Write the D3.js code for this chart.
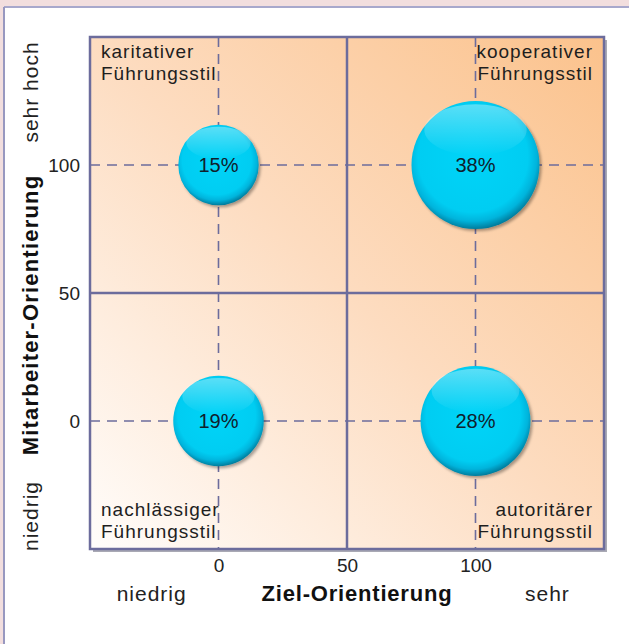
<!DOCTYPE html>
<html>
<head>
<meta charset="UTF-8">
<title>Führungsstile</title>
<script src="https://cdn.jsdelivr.net/npm/d3@7"></script>
<style>
  body { margin: 0; background: #fff; }
  text { font-family: "Liberation Sans", Arial, sans-serif; }
</style>
</head>
<body>
<div id="chart"></div>
<script>
// data
var styles = ["karitativer Führungsstil", "kooperativer Führungsstil", "nachlässiger Führungsstil", "autoritärer Führungsstil"];
var goalValues = [0, 100, 0, 100];      // Ziel-Orientierung
var staffValues = [100, 100, 0, 0];     // Mitarbeiter-Orientierung
var shares = [15, 38, 19, 28];          // Anteil in %
var tickValues = [0, 50, 100];
var xEnds = ["niedrig", "sehr"];
var yEnds = ["niedrig", "sehr hoch"];

(function () {
var W = 629, H = 644;
var svg = d3.select("#chart").append("svg")
    .attr("width", W).attr("height", H);

var defs = svg.append("defs");

// plot background gradient
var bg = defs.append("linearGradient").attr("id", "bg")
    .attr("x1", "0%").attr("y1", "100%").attr("x2", "100%").attr("y2", "0%");
bg.append("stop").attr("offset", "0%").attr("stop-color", "#fffdfb");
bg.append("stop").attr("offset", "50%").attr("stop-color", "#fddcc0");
bg.append("stop").attr("offset", "100%").attr("stop-color", "#fbc28c");

// bubble gradient
var bub = defs.append("radialGradient").attr("id", "bub")
    .attr("cx", "48%").attr("cy", "44%").attr("r", "58%");
bub.append("stop").attr("offset", "0%").attr("stop-color", "#02d4f8");
bub.append("stop").attr("offset", "74%").attr("stop-color", "#00cdf2");
bub.append("stop").attr("offset", "86%").attr("stop-color", "#00b4dc");
bub.append("stop").attr("offset", "100%").attr("stop-color", "#006a88");

var hl = defs.append("linearGradient").attr("id", "hl")
    .attr("x1", "0%").attr("y1", "0%").attr("x2", "0%").attr("y2", "100%");
hl.append("stop").attr("offset", "0%").attr("stop-color", "#ffffff").attr("stop-opacity", 0.35);
hl.append("stop").attr("offset", "100%").attr("stop-color", "#ffffff").attr("stop-opacity", 0);

var shadow = defs.append("filter").attr("id", "sh")
    .attr("x", "-20%").attr("y", "-20%").attr("width", "150%").attr("height", "150%");
shadow.append("feGaussianBlur").attr("in", "SourceAlpha").attr("stdDeviation", 1.5);
shadow.append("feOffset").attr("dx", 2).attr("dy", 2).attr("result", "o");
shadow.append("feComponentTransfer").append("feFuncA").attr("type", "linear").attr("slope", 0.35);
var mg = shadow.append("feMerge");
mg.append("feMergeNode");
mg.append("feMergeNode").attr("in", "SourceGraphic");

// outer frame
svg.append("rect").attr("width", W).attr("height", H).attr("fill", "#f2dede");
svg.append("rect").attr("x", 5).attr("y", 8).attr("width", W - 5).attr("height", H - 8).attr("fill", "#fff");
svg.append("line").attr("x1", 4).attr("x2", W).attr("y1", 7).attr("y2", 7)
    .attr("stroke", "#a8a8cc").attr("stroke-width", 2);
svg.append("line").attr("x1", 4).attr("x2", 4).attr("y1", 7).attr("y2", H)
    .attr("stroke", "#9898c0").attr("stroke-width", 2);

var pl = 90, pr = 604, pt = 37, pb = 549;
var x = d3.scaleLinear().domain([-50, 150]).range([pl, pr]);
var y = d3.scaleLinear().domain([-50, 150]).range([pb, pt]);
var r = d3.scaleSqrt().domain([0, 38]).range([0, 64]);

var gridColor = "#6c6c9c";

// plot area with shadow
svg.append("rect").attr("x", pl + 3).attr("y", pt + 3)
    .attr("width", pr - pl).attr("height", pb - pt)
    .attr("fill", "#a9a9b4");
svg.append("rect").attr("x", pl).attr("y", pt)
    .attr("width", pr - pl).attr("height", pb - pt)
    .attr("fill", "url(#bg)");

var grid = svg.append("g");
tickValues.forEach(function (v) {
  var solid = v === 50;
  grid.append("line").attr("x1", x(v)).attr("x2", x(v)).attr("y1", pt).attr("y2", pb)
      .attr("stroke", gridColor).attr("stroke-width", solid ? 2.5 : 1.6)
      .attr("stroke-dasharray", solid ? null : "10,7");
  grid.append("line").attr("y1", y(v)).attr("y2", y(v)).attr("x1", pl).attr("x2", pr)
      .attr("stroke", gridColor).attr("stroke-width", solid ? 2.5 : 1.6)
      .attr("stroke-dasharray", solid ? null : "10,7");
});
svg.append("rect").attr("x", pl).attr("y", pt)
    .attr("width", pr - pl).attr("height", pb - pt)
    .attr("fill", "none").attr("stroke", gridColor).attr("stroke-width", 2.5);

// quadrant labels
var labelPos = [
  { x: pl + 11, y: pt + 21, anchor: "start" },
  { x: pr - 11, y: pt + 21, anchor: "end" },
  { x: pl + 11, y: pb - 33, anchor: "start" },
  { x: pr - 11, y: pb - 33, anchor: "end" }
];
styles.forEach(function (s, i) {
  var p = labelPos[i];
  var t = svg.append("text").attr("x", p.x).attr("y", p.y)
      .attr("text-anchor", p.anchor).attr("font-size", 19)
      .attr("letter-spacing", 1).attr("fill", "#1e1e1e");
  s.split(" ").forEach(function (w, k) {
    t.append("tspan").attr("x", p.x).attr("dy", k ? 22 : 0).text(w);
  });
});

// bubbles
var pts = shares.map(function (s, i) { return { x: goalValues[i], y: staffValues[i], v: s }; });
var g = svg.selectAll("g.bubble").data(pts).enter().append("g").attr("class", "bubble")
    .attr("transform", function (d) { return "translate(" + x(d.x) + "," + y(d.y) + ")"; });
g.append("circle").attr("r", function (d) { return r(d.v); })
    .attr("fill", "url(#bub)").attr("filter", "url(#sh)");
g.append("ellipse")
    .attr("cy", function (d) { return -r(d.v) * 0.55; })
    .attr("rx", function (d) { return r(d.v) * 0.8; })
    .attr("ry", function (d) { return r(d.v) * 0.4; })
    .attr("fill", "url(#hl)");
g.append("text").attr("text-anchor", "middle").attr("dy", "0.35em")
    .attr("font-size", 20).attr("fill", "#10202c")
    .text(function (d) { return d.v + "%"; });

// axes (labels only)
var xAxis = svg.append("g").attr("transform", "translate(0," + (pb + 5) + ")")
    .call(d3.axisBottom(x).tickValues(tickValues).tickSize(0).tickPadding(5));
var yAxis = svg.append("g").attr("transform", "translate(" + (pl - 5) + ",0)")
    .call(d3.axisLeft(y).tickValues(tickValues).tickSize(0).tickPadding(5));
[xAxis, yAxis].forEach(function (a) {
  a.select(".domain").remove();
  a.selectAll("text").attr("font-family", "Liberation Sans, Arial, sans-serif")
      .attr("font-size", 19).attr("fill", "#222");
});
yAxis.selectAll("text").attr("dy", "0.35em");

// axis titles
svg.append("text").attr("x", x(50) + 10).attr("y", 601).attr("text-anchor", "middle")
    .attr("font-size", 22).attr("font-weight", "bold").attr("letter-spacing", 0.8)
    .attr("fill", "#111").text("Ziel-Orientierung");
svg.append("text").attr("x", x(-26)).attr("y", 601).attr("text-anchor", "middle")
    .attr("font-size", 21).attr("letter-spacing", 1).attr("fill", "#222").text(xEnds[0]);
svg.append("text").attr("x", x(128)).attr("y", 601).attr("text-anchor", "middle")
    .attr("font-size", 21).attr("letter-spacing", 1).attr("fill", "#222").text(xEnds[1]);

function vtext(cy, txt, bold) {
  svg.append("text").attr("transform", "translate(38," + cy + ") rotate(-90)")
      .attr("text-anchor", "middle").attr("font-size", bold ? 22 : 21)
      .attr("font-weight", bold ? "bold" : null).attr("letter-spacing", bold ? 1.2 : 1)
      .attr("fill", bold ? "#111" : "#222").text(txt);
}
vtext(92, yEnds[1], false);
vtext(315, "Mitarbeiter-Orientierung", true);
vtext(516, yEnds[0], false);
})();
</script>
</body>
</html>
